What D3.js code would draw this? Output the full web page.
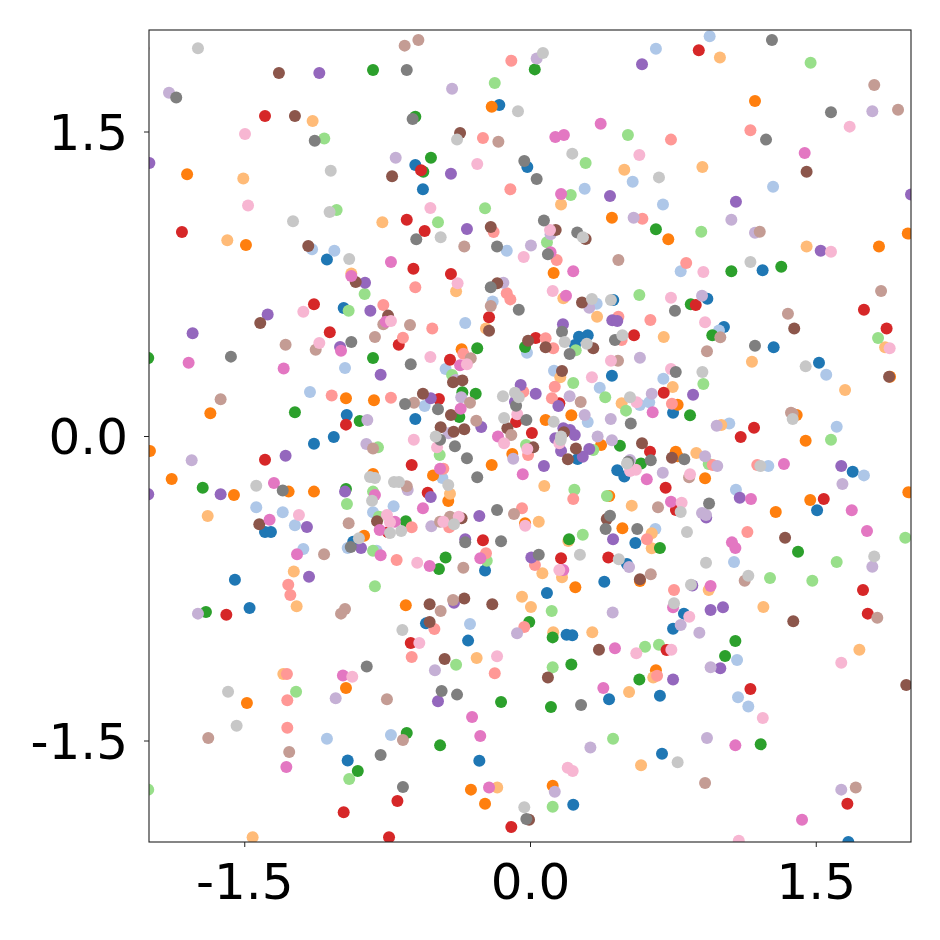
<!DOCTYPE html>
<html>
<head>
<meta charset="utf-8">
<script src="https://cdn.jsdelivr.net/npm/d3@7"></script>
<style>
body { margin: 0; background: #fff; }
</style>
</head>
<body>
<div id="chart"></div>
<script>
// tick values
var xTicks = [-1.5, 0, 1.5];
var yTicks = [-1.5, 0, 1.5];

// points of each colour, as x,y pairs
var blue = [-1.066,.87,-.978,.63,-.161,1.63,-.602,1.335,-.014,1.325,-.562,1.215,.437,.67,1.221,.816,.931,.676,-.962,.103,-1.03,-.005,-1.134,-.038,-1.391,-.473,-1.36,-.473,-.928,-.521,-1.549,-.708,-.602,.084,-.236,-.662,.553,-.527,.509,-.631,.257,.489,.303,.496,.236,.448,.43,.297,.751,.115,.25,-.113,.458,-.169,.495,-.2,1.018,.537,1.279,.437,1.517,.361,1.694,-.176,1.507,-.366,-1.472,-.847,-.957,-1.598,-.546,-.923,-.325,-1.008,-.266,-1.6,.089,-.773,.39,-.718,.192,-.979,.222,-.982,.415,-1.297,.682,-1.279,.693,-1.565,.227,-1.816,.808,-.875,.751,-.949,1.671,-2];
var lightBlue = [-1.144,.92,-1.027,.913,-.196,.662,.661,1.908,-.122,.913,.287,1.218,.539,1.253,.698,1.14,.35,.652,.943,1.969,1.276,1.228,.791,.811,-.971,.335,-1.155,.217,-1.437,-.351,-1.298,-.376,-1.234,-.44,-.824,-.376,-.716,-.346,-.957,-.552,-.805,-.565,-1.19,-.557,-.34,.557,-.443,.33,-.553,.148,-.46,-.207,.658,-.458,-.016,.41,.126,.322,.366,.238,.303,.069,.7,.282,.577,.153,.626,.166,.992,.52,1.555,.302,1.046,.061,1.61,.046,1.251,-.148,1.753,-.194,1.081,-.265,1.071,-.621,-1.066,-1.491,-.73,-1.473,-.315,-.926,1.087,-1.103,1.092,-1.287,1.146,-1.333];
var orange = [-1.8,1.289,-1.491,.941,-.201,1.622,.124,.803,.43,1.075,.726,.969,1.181,1.65,1.832,.933,1.983,.997,-.966,.186,-.819,.176,-1.678,.112,-1.995,-.074,-1.881,-.212,-1.554,-.291,-1.267,-.274,-1.134,-.274,-.824,-.187,-.871,-.491,-.359,.427,-.201,-.143,-.509,-.194,-.429,-.32,-.026,-.43,-.093,-.089,.416,-.296,.485,-.455,.217,.102,.082,.079,.775,.154,.373,-.044,1.89,.292,1.4,.103,1.447,-.023,.765,-.077,.775,-.1,.919,-.208,1.471,-.315,1.29,-.374,1.986,-.277,-.652,-.834,-.966,-1.241,-1.486,-1.315,-.31,-1.742,-.236,-1.811,.238,-.745,.577,-.714,.661,-1.154,.119,-1.723];
var lightOrange = [-1.141,1.552,-1.505,1.269,-1.589,.964,-.775,1.053,-.938,.801,.163,1.14,.495,1.312,-.388,.713,.175,.678,.997,1.864,.905,1.325,1.452,.933,-1.692,-.394,-1.24,-.668,-.231,.53,.352,.588,.702,.488,-.42,-.284,.046,-.422,.075,-.246,.534,-.343,.639,-.479,.639,-.553,.201,-.517,.065,-.676,.159,.289,.749,.241,.481,.161,1.864,.437,1.165,.366,1.654,.227,1.004,.054,.873,-.084,-1.225,-.839,-1.295,-1.172,-1.456,-1.977,-.28,-1.094,-.172,-1.732,-.042,-.792,.005,-.842,.168,-.696,.122,-.967,.327,-.967,.647,-1.19,.52,-1.261,.583,-1.622,.938,-.759,1.225,-.842,1.729,-1.053];
var green = [-.824,1.803,-.602,1.573,.025,1.806,-.52,1.371,-.56,1.302,.661,1.018,1.057,.811,1.319,.834,.844,.649,-2.004,.384,-.824,.384,-1.234,.117,-.894,.074,-1.718,-.255,-.966,-.261,-.652,-.42,-.277,.432,-.355,.215,-.285,.208,-.371,.094,-.443,-.598,-.478,-.655,-.026,.438,.205,-.509,.682,-.552,.472,-.048,.583,-.135,.957,.496,.84,.102,1.407,-.57,-1.701,-.867,-.647,-1.463,-.904,-1.65,-.152,-1.31,.11,-1.335,-.472,-1.524,-.004,-.916,.119,-.992,.217,-1.126,.574,-1.2,1.078,-1.01,1.024,-1.084,1.211,-1.519];
var lightGreen = [-1.08,1.465,-1.015,1.113,-.868,.7,-.952,.617,-.185,1.739,.514,1.483,.292,1.345,.214,1.187,-.236,1.122,-.483,1.053,.089,.954,.574,.695,1.473,1.839,.899,1.006,-.798,-.056,-.824,-.274,-.961,-.335,-.793,-.398,-.824,-.565,-.409,.3,-.474,-.094,-.227,-.614,-.021,-.044,.233,-.265,.404,-.296,.277,-.486,.24,.422,.227,.261,.395,.191,.504,.125,.332,-.069,1.827,.483,.91,.256,1.58,-.018,.938,-.138,1.97,-.501,1.61,-.621,1.26,-.7,-.814,-.74,-1.228,-1.26,-.949,-1.69,-2.004,-1.742,-.388,-1.127,.114,-.862,.604,-1.038,.677,-1.028,.119,-1.139,.436,-1.491,.119,-1.826,1.482,-.713];
var red = [-1.391,1.576,-.647,1.065,-1.827,1.005,-.612,.824,-1.134,.649,-.572,1.309,-.553,1.01,-.415,.798,.886,1.9,.87,.645,-1.051,.511,-.689,.45,-.966,.056,-1.391,-.117,-.621,-.143,-.745,-.474,-.215,.585,-.42,.376,-.478,.182,-.073,.069,.01,.015,-.537,-.279,-.247,-.514,.163,-.602,.411,-.598,.03,.483,.546,.496,.154,.161,.702,.213,.63,-.077,.712,-.255,.766,-.365,1.753,.622,1.872,.529,1.176,.041,1.106,-.005,1.542,-.31,-1.594,-.88,-.626,-1.02,-.696,-1.798,-.978,-1.854,-.74,-1.977,-.098,-1.926,1.748,-.759,1.773,-.875,.717,-1.054,1.157,-1.246,1.666,-1.811];
var lightRed = [-.77,.645,-.098,1.849,-.247,1.468,.74,1.46,-.103,1.215,.59,1.07,-.191,1.005,.14,.867,-.602,.733,-.122,.703,-.103,.673,1.157,1.506,.82,.852,-.667,.484,-1.041,.199,-.73,.189,-.621,-.45,-.7,-.611,-.513,.529,-.35,.405,-.455,-.161,-.424,-.45,-.042,-.356,-.231,-.578,-.035,.218,-.01,-.094,.227,-.31,.614,-.509,.026,-.635,.082,.481,.122,.432,.464,.588,.632,.571,.481,.473,.13,.243,.115,.186,.745,.159,.959,-.143,1.193,-.143,1.141,-.473,-1.269,-.733,-1.258,-.783,-1.276,-1.172,-1.274,-1.302,-1.274,-1.437,-.502,-.951,-.621,-1.089,-.185,-1.169,-.03,-.941,.667,-1.181,.756,-.759];
var purple = [-1.106,1.788,-1.998,1.345,-.866,.755,-.415,1.292,.588,1.831,.42,1.182,-.331,1.02,1.081,1.154,2,1.19,1.526,.913,-1.377,.598,-.838,.617,-1.771,.506,-.997,.438,-.784,.302,-1.283,-.097,-1.624,-.287,-2.004,-.287,-.971,-.274,-1.171,-.448,-.887,-.552,-1.16,-.693,-.521,.186,-.256,.044,-.521,-.3,-.266,-.394,-.34,-.509,.007,-.598,.436,-.509,-.049,.251,.03,.208,-.079,.169,.073,-.148,.173,.55,.432,.57,.458,.566,.149,.148,.175,.038,.21,.03,.235,.005,.133,-.011,.163,-.074,.311,-.064,.277,-.102,.856,.203,1.634,-.148,1.101,-.304,.925,-.402,-.399,-.821,-.483,-1.307,.852,-.737,.948,-.857,1.013,-.844,.999,-1.144,.751,-1.2];
var lightPurple = [-1.895,1.691,-.705,1.371,-.409,1.711,.035,1.86,.544,1.075,.108,.994,.005,.938,-.14,.755,1.797,1.6,1.057,1.065,1.181,1.001,.311,.632,.903,.691,-.854,.079,-.859,-.039,-1.776,-.12,-.642,-.266,-.39,.276,-.361,.191,-.427,.013,-.518,-.445,-.088,-.112,.208,.196,.287,.103,.424,.084,.577,.386,.639,.208,.355,-.003,.43,-.021,.525,-.118,.697,-.181,.919,-.1,.983,-.148,.98,.051,1.64,-.236,.903,-.379,.924,-.389,1.797,-.644,-1.743,-.875,-1.02,-1.292,.52,-.645,-.499,-1.154,-.068,-.972,.434,-.87,.317,-1.534,.13,-1.752,.791,-.931,.889,-.969,.948,-1.139,.929,-1.488,1.634,-1.742];
var brown = [-2.03,1.91,-1.318,1.788,-1.234,1.576,-.724,1.279,-1.164,.936,-.915,.759,-.367,1.493,-.206,1.03,.135,1.015,.292,.97,-.172,.752,.273,.658,1.452,1.302,-1.416,.557,-.745,.593,-1.421,-.435,-.803,-.42,-.215,.519,-.404,.265,-.355,.274,-.562,.208,-.415,.103,-.469,.043,-.401,.021,-.345,.033,-.359,-.405,-.119,.038,.017,-.056,.403,-.409,.577,-.706,.082,.437,-.01,.469,.332,.432,.168,.32,.178,.018,.241,-.061,.199,-.115,.588,-.036,.745,-.107,1.387,.529,1.885,.292,1.339,-.501,-.527,-.829,-.345,-.801,-.198,-.829,-.527,-.916,-.448,-1.099,-.005,-1.89,.362,-1.053,.094,-1.19,1.382,-.913,1.975,-1.227];
var lightBrown = [-.658,1.923,-.586,1.951,-.166,1.45,-.345,.933,.464,.867,1.807,1.729,1.932,1.607,1.206,1.006,1.843,.714,-.77,.55,-.63,.547,-.814,.488,-1.283,.45,-1.125,.425,-1.624,.181,-.824,-.061,-.647,-.248,-.952,-.43,-1.081,-.583,-.206,.64,-.311,.383,-.315,.164,-.609,.164,-.282,.075,-.472,-.422,-.42,-.398,-.084,-.384,-.35,-.649,-.098,.005,.634,-.681,.462,.371,.266,.167,.672,-.351,.999,.486,1.354,.602,.929,.417,1.37,.115,1.379,.11,.835,-.203,1.127,-.713,-.971,-.852,-.992,-.875,-.751,-1.297,-1.689,-1.488,-.667,-1.498,-1.264,-1.557,-.469,-.862,-.404,-.808,1.823,-.895,.919,-1.709,1.71,-1.732];
var pink = [-.73,.857,-.938,.788,.133,1.473,.178,1.483,.371,1.538,.108,.905,.163,1.192,.227,.811,.189,.691,1.442,1.394,-.757,.563,-.992,.42,-1.792,.361,-1.293,.333,-1.344,-.232,-.814,-.291,-1.367,-.412,-.709,-.422,-.789,-.463,-.784,-.588,-1.223,-.583,-.367,.348,-.364,.134,-.168,-.003,-.472,-.161,-.562,-.356,-.261,-.602,-.527,-.64,-.038,-.189,.175,-.66,.644,.117,.613,-.213,.74,-.324,1.333,-.138,1.16,-.31,1.689,-.366,1.769,-.468,1.06,-.524,1.078,-.552,-.982,-1.18,-1.279,-1.631,-.304,-1.384,-.261,-1.478,-.215,-1.732,.446,-1.046,.385,-1.241,.948,-.739,.751,-.844,1.078,-1.524,1.428,-1.89];
var lightPink = [-1.496,1.488,-1.48,1.136,.574,1.384,-.277,1.34,-.523,1.123,.105,1.015,-.033,.882,-.38,.752,.119,.714,1.58,.908,1.678,1.524,.91,.808,.74,.681,-1.19,.612,-.73,.566,-1.106,.458,-1.213,-.389,-.751,-.389,-.735,-.425,-.523,.389,-.331,.353,-.61,-.018,-.488,-.056,-.455,-.422,-.374,-.398,-.592,-.624,-.067,.107,-.136,-.036,-.014,-.064,-.025,-.442,.154,-.66,.425,.371,.325,.289,.74,.33,.56,.166,.154,-.036,.525,-.172,.556,-.166,.919,.56,1.888,.432,.84,-.189,.796,-.329,-.933,-1.186,-.581,-1.02,-.173,-1.085,.558,-1.07,.198,-1.634,.224,-1.65,.836,-.89,.742,-1.053,1.634,-1.117,1.222,-1.389,1.096,-1.994];
var gray = [-.647,1.803,-1.857,1.668,-.616,1.562,-1.13,1.455,-.03,1.355,.035,1.266,.073,1.061,.248,1.002,-.597,.969,-.173,.933,.094,.895,-.206,.733,1.27,1.951,1.58,1.595,1.239,1.46,-.938,.463,-1.57,.391,-.626,.353,-.656,.158,-1.298,-.269,-.941,-.547,-.059,.622,-.483,.132,-.472,-.018,-.394,-.051,-.331,-.11,-.277,-.203,-.173,-.365,-.34,-.524,-.152,-.519,-.073,.149,-.019,.079,.42,-.393,.397,-.458,.563,-.458,.046,-.585,.168,.514,.208,.404,.446,.473,.529,.061,.634,-.12,.516,-.127,.761,.617,1.181,.445,.765,.315,.81,-.115,.94,-.333,-.857,-1.136,-.784,-1.571,-.667,-1.729,-.464,-1.256,-.383,-1.274,.268,-1.325,-.019,-1.887];
var lightGray = [-1.743,1.91,-1.046,1.307,-1.052,1.103,-1.244,1.058,-.949,.872,.068,1.887,-.063,1.6,-.383,1.46,.222,1.391,.677,1.274,-.469,.979,.278,.979,.325,.675,.425,.67,1.157,.857,-.84,-.202,-.814,-.207,-.714,-.227,-.688,-.227,-1.437,-.245,-.829,-.319,-.735,-.478,-.676,-.468,-.898,-.504,-.495,-.003,-.429,-.241,-.399,-.435,-.142,.196,-.079,.213,-.059,.191,-.136,.089,.124,.07,.163,-.003,.161,-.02,.262,-.585,.466,-.607,.485,.496,.298,.455,.182,.463,.509,-.135,.525,.191,.905,.315,1.447,.343,1.379,.084,1.209,-.148,.791,-.374,.824,-.473,.924,-.624,1.807,-.593,1.146,-.688,-.67,-.956,-1.585,-1.26,-1.54,-1.427,-.03,-1.829,.756,-.824,.845,-.733,.775,-1.607];

var series = [
    {pts: blue, color: "#1f77b4"},
    {pts: lightBlue, color: "#aec7e8"},
    {pts: orange, color: "#ff7f0e"},
    {pts: lightOrange, color: "#ffbb78"},
    {pts: green, color: "#2ca02c"},
    {pts: lightGreen, color: "#98df8a"},
    {pts: red, color: "#d62728"},
    {pts: lightRed, color: "#ff9896"},
    {pts: purple, color: "#9467bd"},
    {pts: lightPurple, color: "#c5b0d5"},
    {pts: brown, color: "#8c564b"},
    {pts: lightBrown, color: "#c49c94"},
    {pts: pink, color: "#e377c2"},
    {pts: lightPink, color: "#f7b6d2"},
    {pts: gray, color: "#7f7f7f"},
    {pts: lightGray, color: "#c7c7c7"}
];

// set the dimensions and margins of the graph
var margin = {top: 30, right: 29, bottom: 98, left: 149},
    width = 940 - margin.left - margin.right,
    height = 940 - margin.top - margin.bottom;

var svg = d3.select("#chart")
    .append("svg")
    .attr("width", 940)
    .attr("height", 940)
    .append("g")
    .attr("transform", "translate(" + margin.left + "," + margin.top + ")");

var x = d3.scaleLinear().domain([-2, 2]).range([0, width]);
var y = d3.scaleLinear().domain([-2, 2]).range([height, 0]);

svg.append("clipPath")
    .attr("id", "plot-area")
    .append("rect")
    .attr("width", width)
    .attr("height", height);

var dots = svg.append("g").attr("clip-path", "url(#plot-area)");

series.forEach(function(s) {
    var pairs = d3.pairs(s.pts).filter(function(d, i) { return i % 2 === 0; });
    dots.append("g")
        .selectAll("circle")
        .data(pairs)
        .join("circle")
        .attr("cx", function(d) { return x(d[0]); })
        .attr("cy", function(d) { return y(d[1]); })
        .attr("r", 6)
        .attr("fill", s.color);
});

// axes
var xAxis = d3.axisBottom(x).tickValues(xTicks)
    .tickFormat(function(d) { return d.toFixed(1); }).tickSize(5).tickPadding(16);
var yAxis = d3.axisLeft(y).tickValues(yTicks)
    .tickFormat(function(d) { return d.toFixed(1); }).tickSize(5).tickPadding(16);

svg.append("g")
    .attr("transform", "translate(0," + height + ")")
    .style("font-size", "50px")
    .style("font-family", "DejaVu Sans")
    .call(xAxis);

var yGroup = svg.append("g")
    .style("font-size", "50px")
    .style("font-family", "DejaVu Sans")
    .call(yAxis);

yGroup.selectAll(".tick text").attr("dy", "0.35em");

svg.selectAll(".domain").remove();
svg.selectAll(".tick line").attr("stroke", "#222").attr("stroke-width", 1);
svg.selectAll(".tick text").attr("fill", "#000");

// frame
svg.append("rect")
    .attr("width", width)
    .attr("height", height)
    .attr("fill", "none")
    .attr("stroke", "#222")
    .attr("stroke-width", 1.1);
</script>
</body>
</html>
